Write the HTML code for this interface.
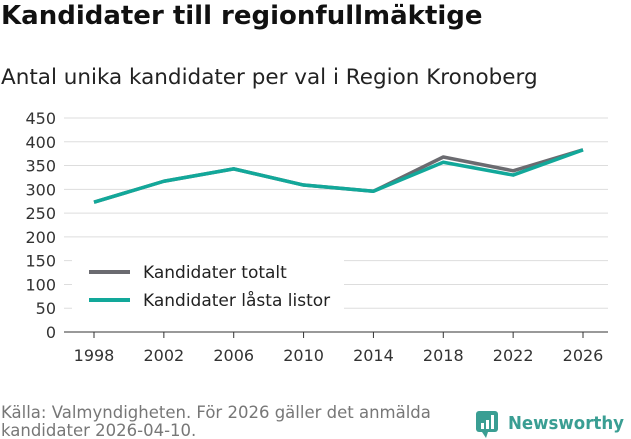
<!DOCTYPE html>
<html><head><meta charset="utf-8"><style>
body{margin:0;background:#fff;font-family:"DejaVu Sans","Liberation Sans",sans-serif;}
#wrap{position:relative;width:631px;height:439px;overflow:hidden;}
.t{position:absolute;white-space:nowrap;}
</style></head><body><div id="wrap">
<div class="t" style="left:1px;top:1px;font-size:26px;font-weight:bold;color:#111;">Kandidater till regionfullmäktige</div>
<div class="t" style="left:1px;top:65px;font-size:21.5px;color:#222;">Antal unika kandidater per val i Region Kronoberg</div>
<svg id="c" width="631" height="439" style="position:absolute;left:0;top:0"></svg>
<div class="t" style="left:1px;top:404px;font-size:16.5px;color:#777;line-height:18px;">Källa: Valmyndigheten. För 2026 gäller det anmälda<br>kandidater 2026-04-10.</div>
<div style="position:absolute;left:476px;top:409px;">
<svg width="155" height="30"><rect x="0" y="2" width="22" height="21" rx="3" fill="#3a9e93"/><path d="M6 23 L10 29 L12 23Z" fill="#3a9e93"/><rect x="5" y="14" width="3" height="6" fill="#fff"/><rect x="10" y="11" width="3" height="9" fill="#fff"/><rect x="15" y="6" width="3" height="14" fill="#fff"/>
<text x="32" y="20" font-family="DejaVu Sans, sans-serif" font-size="18" font-weight="bold" fill="#3a9e93" textLength="116" lengthAdjust="spacingAndGlyphs">Newsworthy</text></svg></div>
</div>
<script>
const years=["1998","2002","2006","2010","2014","2018","2022","2026"];
const totalt=[273,317,343,309,296,368,339,383];
const lasta=[273,317,343,309,296,357,330,383];
const yTicks=[0,50,100,150,200,250,300,350,400,450];
const NS="http://www.w3.org/2000/svg";
const svg=document.getElementById('c');
const x0=94,x1=583,yb=332,yt=118;
const xs=i=>x0+i*(x1-x0)/(years.length-1);
const ys=v=>yb-v*(yb-yt)/450;
function mk(t,a){const e=document.createElementNS(NS,t);for(const k in a)e.setAttribute(k,a[k]);svg.appendChild(e);return e;}
yTicks.forEach(v=>{
 const l=mk('line',{x1:64,x2:608,y1:ys(v),y2:ys(v),stroke:v===0?'#333':'#ddd','stroke-width':1});
 
 
 const t=mk('text',{x:56,y:ys(v)+6,'text-anchor':'end','font-size':16,fill:'#333','font-family':'DejaVu Sans, sans-serif'});t.textContent=v;
 
 
});
years.forEach((y,i)=>{
 const l=mk('line',{x1:xs(i),x2:xs(i),y1:yb,y2:yb+6,stroke:'#333'});
 
 
 const t=mk('text',{x:xs(i),y:yb+29,'text-anchor':'middle','font-size':16,fill:'#333','font-family':'DejaVu Sans, sans-serif'});t.textContent=y;
 
 
});
function line(d,c,n){const p=mk('polyline',{points:d.map((v,i)=>xs(i)+','+ys(v)).join(' '),fill:'none',stroke:c,'stroke-width':3.5,'stroke-linejoin':'round'});
 
 }
line(totalt,'#6b6b70','line-kandidater-totalt');
line(lasta,'#12a89a','line-kandidater-lasta-listor');
const bg=mk('rect',{x:72,y:257,width:272,height:62,fill:'#fff'});


[['Kandidater totalt','#6b6b70',272],['Kandidater låsta listor','#12a89a',300]].forEach(([n,c,y])=>{
 const l=mk('line',{x1:89,x2:130,y1:y,y2:y,stroke:c,'stroke-width':4});
 
 
 const t=mk('text',{x:143,y:y+6,'font-size':17,fill:'#222','font-family':'DejaVu Sans, sans-serif'});t.textContent=n;
 
 
});
</script></body></html>
